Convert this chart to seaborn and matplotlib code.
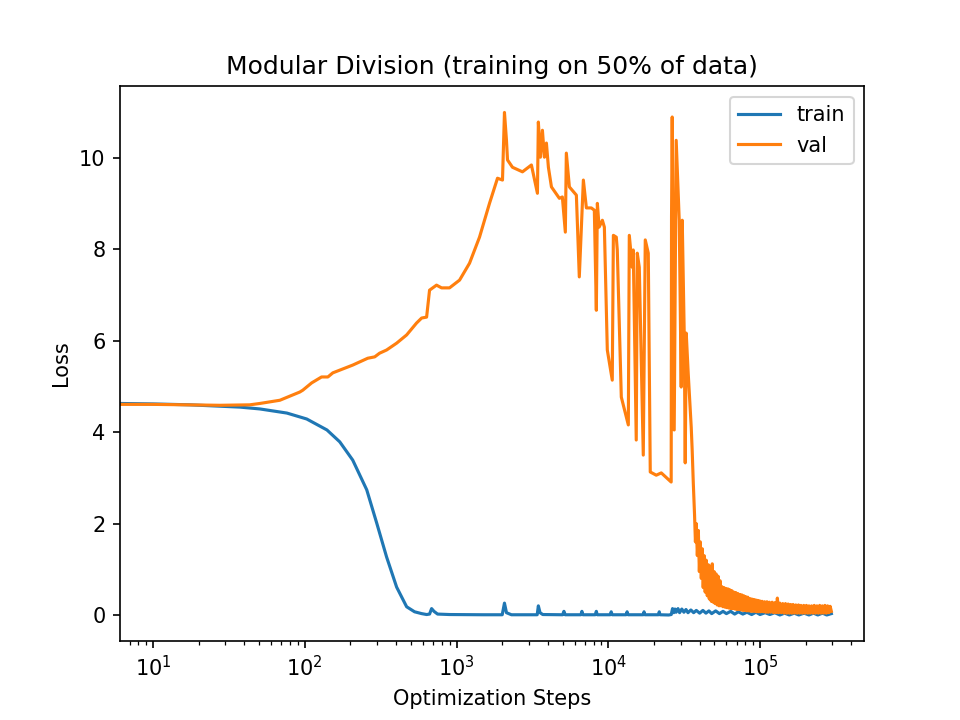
import numpy as np
import pandas as pd
import matplotlib
matplotlib.use("Agg")
import matplotlib.pyplot as plt
import seaborn as sns

# ---------------- data ----------------
train_steps = [1, 3, 6, 10, 17.5, 27.6, 37.4, 50.6, 76.2, 103, 140, 170, 207, 256, 298,
               346, 403, 469, 529, 589, 635, 664, 685, 710, 750, 899, 1500,
               2000, 2069, 2133, 2300, 3400, 3460, 3550, 3700,
               5000, 5100, 5200, 6600, 6700, 6800, 8200, 8340, 8450, 10300, 10450, 10600,
               13100, 13300, 13500, 17000, 17200, 17400, 21400, 21670, 21900,
               25000, 26000, 26500, 27000, 27500, 28000, 28800, 29500, 30500, 31500,
               32500, 33500, 35000, 36500, 38000, 40000, 42000, 44000, 46000, 48000,
               51000, 54000, 57000, 60000, 64000, 68000, 72000, 77000, 82000, 88000,
               94000, 100000, 108000, 116000, 125000, 135000, 145000, 156000, 168000,
               180000, 195000, 210000, 225000, 240000, 258000, 275000, 295000]
train_loss = [4.63, 4.63, 4.63, 4.62, 4.60, 4.57, 4.55, 4.51, 4.42, 4.29, 4.05, 3.79, 3.39, 2.74, 2.01,
              1.27, 0.61, 0.18, 0.07, 0.03, 0.01, 0.02, 0.14, 0.08, 0.02, 0.01, 0.005,
              0.005, 0.26, 0.05, 0.005, 0.005, 0.20, 0.05, 0.01,
              0.005, 0.08, 0.005, 0.005, 0.08, 0.005, 0.005, 0.08, 0.005, 0.005, 0.07, 0.005,
              0.005, 0.07, 0.005, 0.005, 0.07, 0.005, 0.005, 0.07, 0.005,
              0.0, 0.01, 0.14, 0.05, 0.13, 0.06, 0.14, 0.05, 0.13, 0.06,
              0.12, 0.05, 0.11, 0.05, 0.10, 0.04, 0.10, 0.04, 0.09, 0.03,
              0.09, 0.03, 0.08, 0.03, 0.08, 0.02, 0.07, 0.02, 0.06, 0.01,
              0.06, 0.01, 0.05, 0.01, 0.05, 0.0, 0.04, 0.0, 0.04,
              0.0, 0.04, 0.0, 0.04, 0.0, 0.04, 0.0, 0.03]

# validation: smooth rise, spiky plateau, then collapse
val_steps_head = [1, 3, 6, 10, 17.5, 27.6, 43.4, 50.6, 68.5, 92.7, 97, 111, 129, 142, 153,
                  207, 260, 289, 311, 346, 403, 469, 545, 589, 635, 664, 738, 797, 899,
                  1047, 1218, 1417, 1649, 1862, 2008, 2069, 2133, 2167, 2336, 2719, 3114,
                  3412, 3460, 3570, 3680, 3793, 3910, 4030, 4220, 4760, 4980, 5210, 5290,
                  5540, 6160, 6440, 6850, 7170, 7730, 8090, 8340, 8470, 8700, 9140, 9420,
                  9850, 10620, 10800, 11290, 11460, 12180, 13550, 13750, 14390, 14600,
                  15280, 15520, 16000, 17000, 17520, 18340, 18900, 20700, 22340, 25960,
                  26100, 26370, 27180, 28010, 28450, 29330, 30230, 30700, 31640, 32130,
                  32620, 33600, 35190, 35700, 36300]
val_loss_head = [4.61, 4.61, 4.61, 4.61, 4.60, 4.59, 4.60, 4.63, 4.70, 4.88, 4.92, 5.08, 5.21, 5.21, 5.30,
                 5.47, 5.62, 5.65, 5.73, 5.80, 5.95, 6.13, 6.39, 6.50, 6.52, 7.11, 7.22, 7.16, 7.16,
                 7.33, 7.70, 8.27, 9.01, 9.56, 9.52, 11.0, 10.39, 9.96, 9.80, 9.70, 9.85,
                 9.23, 10.79, 10.02, 10.61, 10.02, 10.33, 9.80, 9.37, 9.12, 9.15, 8.38, 10.11,
                 9.37, 9.19, 7.40, 9.52, 8.91, 8.91, 8.86, 6.67, 9.01, 8.49, 8.64, 8.49,
                 5.80, 5.14, 8.31, 8.27, 7.99, 4.77, 4.16, 8.31, 7.61, 7.99,
                 3.83, 7.92, 7.61, 3.50, 8.21, 7.92, 3.13, 3.06, 3.11, 2.91,
                 8.71, 10.90, 4.05, 10.39, 9.80, 8.64, 4.99, 8.64, 6.17, 3.33,
                 6.17, 5.30, 4.11, 3.61, 2.90]

val_steps_mid = [37000, 37500, 38000, 38600, 39200, 39800, 40400, 41000, 41600, 42200,
                 42800, 43500, 44200, 44900, 45600, 46300, 47000, 47700, 48400, 49100,
                 49800, 50500, 51300, 52100, 52900, 53700, 54500, 55300, 56100, 57000,
                 57900, 58800, 59700, 60600, 61500, 62400, 63300, 64300, 65300, 66300,
                 67300, 68300, 69300, 70300, 71400, 72500, 73600, 74700, 75800, 77000,
                 78200, 79400, 80600, 81800, 83000, 84300, 85600, 86900, 88200, 89500,
                 90800, 92200, 93600, 95000, 96400, 97900, 99400]
val_loss_mid = [2.20, 1.60, 2.00, 1.30, 1.85, 0.95, 1.60, 0.80, 1.45, 0.60,
                1.30, 0.50, 1.20, 0.42, 1.10, 0.35, 1.05, 0.30, 1.12, 0.28,
                0.95, 0.25, 0.90, 0.22, 0.85, 0.20, 0.75, 0.20, 0.62, 0.18,
                0.60, 0.17, 0.58, 0.16, 0.57, 0.15, 0.55, 0.14, 0.53, 0.14,
                0.50, 0.13, 0.49, 0.12, 0.47, 0.12, 0.45, 0.11, 0.44, 0.10,
                0.42, 0.10, 0.40, 0.09, 0.39, 0.09, 0.36, 0.08, 0.35, 0.08,
                0.34, 0.08, 0.33, 0.07, 0.32, 0.07, 0.31]

val_steps_tail = [101000, 103000, 105000, 107000, 109000, 111000, 113000, 115000, 117500, 120000,
                  122500, 125000, 127500, 130000, 132500, 135000, 138000, 141000, 144000, 147000,
                  150000, 153000, 156000, 159000, 162000, 165000, 168500, 172000, 175500, 179000,
                  182500, 186000, 190000, 194000, 198000, 202000, 206000, 210000, 214000, 218500,
                  223000, 227500, 232000, 237000, 242000, 247000, 252000, 257000, 262000, 267500,
                  273000, 278500, 284000, 289500, 295000]
val_loss_tail = [0.07, 0.30, 0.07, 0.29, 0.06, 0.29, 0.06, 0.28, 0.06, 0.28,
                 0.05, 0.27, 0.05, 0.37, 0.05, 0.26, 0.05, 0.25, 0.04, 0.25,
                 0.04, 0.24, 0.04, 0.23, 0.04, 0.23, 0.04, 0.22, 0.04, 0.22,
                 0.04, 0.21, 0.04, 0.21, 0.04, 0.21, 0.04, 0.20, 0.04, 0.20,
                 0.04, 0.21, 0.04, 0.20, 0.04, 0.21, 0.04, 0.20, 0.04, 0.21,
                 0.04, 0.20, 0.05, 0.19, 0.08]

x_limits = (6.06, 4.84e5)
y_limits = (-0.565, 11.57)
y_ticks = [0, 2, 4, 6, 8, 10]

val_steps = val_steps_head + val_steps_mid + val_steps_tail
val_loss = val_loss_head + val_loss_mid + val_loss_tail
assert len(val_steps) == len(val_loss)
assert len(train_steps) == len(train_loss)

train_df = pd.DataFrame({"step": train_steps, "loss": train_loss})
val_df = pd.DataFrame({"step": val_steps, "loss": val_loss})

fig, ax = plt.subplots(figsize=(6.4, 4.8), dpi=150)
sns.lineplot(data=train_df, x="step", y="loss", ax=ax, label="train",
             color="#1f77b4", estimator=None, linewidth=1.5)
sns.lineplot(data=val_df, x="step", y="loss", ax=ax, label="val",
             color="#ff7f0e", estimator=None, linewidth=1.5)
ax.set_xscale("log")
ax.set_xlim(*x_limits)
ax.set_ylim(*y_limits)
ax.set_yticks(y_ticks)
ax.set_title("Modular Division (training on 50% of data)")
ax.set_xlabel("Optimization Steps")
ax.set_ylabel("Loss")
ax.legend(loc="upper right")
fig.savefig("out.png", dpi=150)
